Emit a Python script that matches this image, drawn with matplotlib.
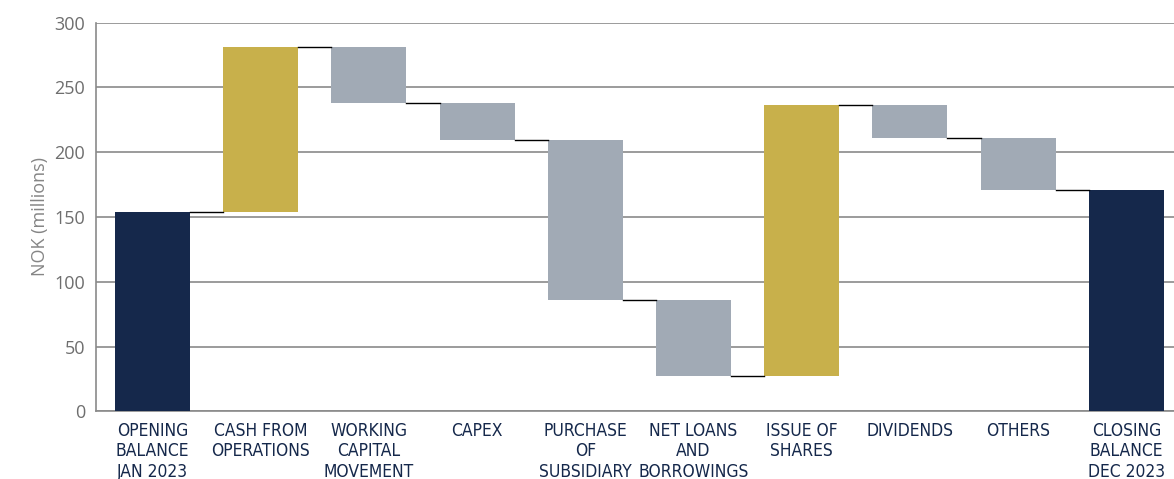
#现金流瀑布图

import matplotlib
matplotlib.use('Agg')
import matplotlib.pyplot as plt
import numpy as np

# 数据
categories = ['OPENING\nBALANCE\nJAN 2023', 'CASH FROM\nOPERATIONS', 'WORKING\nCAPITAL\nMOVEMENT',
              'CAPEX', 'PURCHASE\nOF\nSUBSIDIARY', 'NET LOANS\nAND\nBORROWINGS', 'ISSUE OF\nSHARES',
              'DIVIDENDS', 'OTHERS', 'CLOSING\nBALANCE\nDEC 2023']
opening = 154
changes = [127, -43, -29, -123, -59, 209, -25, -40]
closing = 171
yticks = [0, 50, 100, 150, 200, 250, 300]

navy = '#15284b'
gold = '#c8b04b'
grey = '#a1aab5'

fig = plt.figure(figsize=(11.74, 4.79), dpi=100)
ax = fig.add_axes([0.0818, 0.141, 0.9182, 0.812])

# 计算每根柱子的底部和高度
bottoms = [0]
heights = [opening]
levels = [opening]
running = opening
for c in changes:
    new = running + c
    bottoms.append(min(running, new))
    heights.append(abs(c))
    running = new
    levels.append(running)
bottoms.append(0)
heights.append(closing)

colors = [navy] + [gold if c > 0 else grey for c in changes] + [navy]

x = np.arange(len(categories))
w = 0.693
ax.bar(x, heights, bottom=bottoms, width=w, color=colors, zorder=3)

# 连接线
for i in range(len(levels)):
    ax.plot([x[i] + w / 2, x[i + 1] - w / 2], [levels[i], levels[i]], color='black', lw=1, zorder=4)

ax.set_xlim(-0.522, 9.44)
ax.set_ylim(0, 300)
ax.set_yticks(yticks)
ax.yaxis.grid(True, color='#8a8a8a', lw=1.2, zorder=0)
ax.set_axisbelow(True)
ax.set_xticks(x)
ax.set_xticklabels(categories, fontsize=12.5, color=navy, linespacing=1.17,
                   family='DejaVu Sans', fontstretch='condensed')
ax.tick_params(axis='both', length=0)
ax.tick_params(axis='y', labelsize=13, labelcolor='#6e6e6e', pad=8)
ax.tick_params(axis='x', pad=7.5)
ax.set_ylabel('NOK (millions)', fontsize=13, color='#858585', family=['Open Sans', 'DejaVu Sans'])
for lbl in ax.get_yticklabels():
    lbl.set_family(['Open Sans', 'DejaVu Sans'])

for s in ['top', 'right']:
    ax.spines[s].set_visible(False)
ax.spines['left'].set_color('#8a8a8a')
ax.spines['bottom'].set_color('#8a8a8a')
ax.spines['left'].set_linewidth(1.2)
ax.spines['bottom'].set_linewidth(1.2)

plt.savefig('out.png', dpi=100)
